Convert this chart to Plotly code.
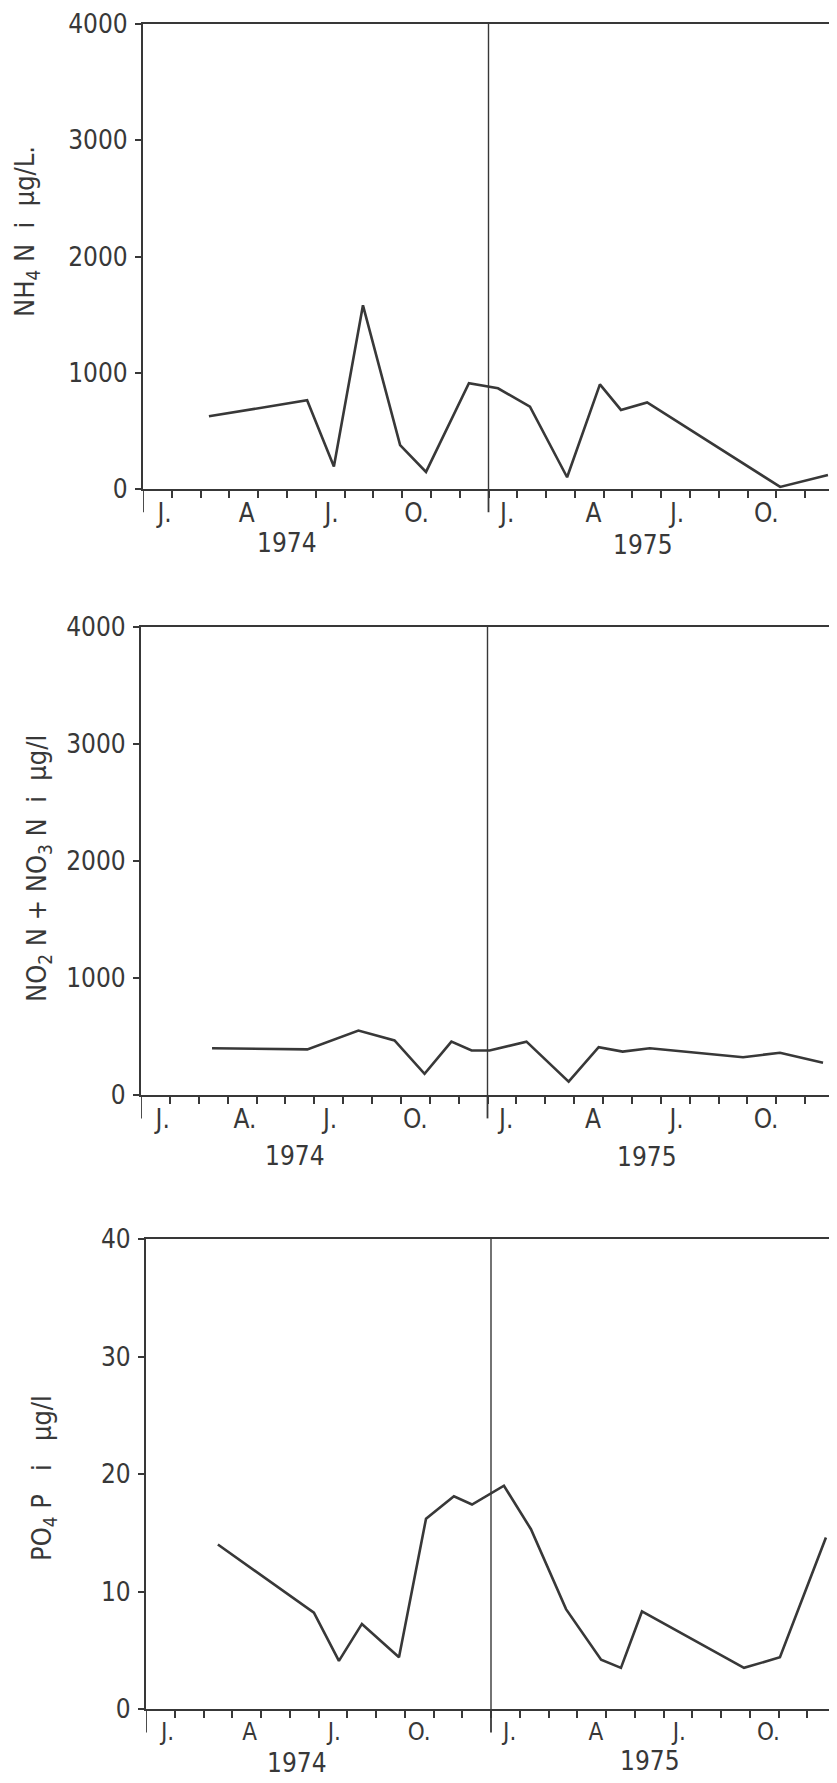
import plotly.graph_objects as go

# The page body adds an 8px margin; the figure is sized/placed to compensate.
OFF = 8
W, H = 837 - OFF, 1783 - OFF

# ---------------- data (x = months since 1 Jan 1974) ----------------
nh4_x = [2.29, 5.70, 6.63, 7.64, 8.93, 9.83, 11.32, 12.33, 13.44, 14.73, 15.87, 16.60, 17.51, 22.13, 23.79]
nh4_y = [625, 763, 193, 1580, 377, 147, 910, 866, 708, 101, 900, 680, 745, 18, 120]

no_x = [2.46, 5.76, 7.53, 8.78, 9.82, 10.75, 11.45, 12.07, 13.35, 14.81, 15.85, 16.68, 17.62, 20.85, 22.13, 23.62]
no_y = [399, 390, 551, 466, 181, 456, 380, 380, 456, 114, 408, 371, 399, 323, 361, 276]

po4_x = [2.50, 5.84, 6.71, 7.51, 8.80, 9.74, 10.71, 11.34, 12.45, 13.39, 14.61, 15.83, 16.52, 17.25, 20.80, 22.05, 23.65]
po4_y = [14.0, 8.2, 4.1, 7.24, 4.4, 16.2, 18.1, 17.4, 19.0, 15.3, 8.5, 4.2, 3.5, 8.3, 3.5, 4.4, 14.6]

month_pos = [0.75, 3.6, 6.55, 9.5, 12.65, 15.65, 18.55, 21.65]
months_a = ["J.", "A", "J.", "O.", "J.", "A", "J.", "O."]
months_b = ["J.", "A.", "J.", "O.", "J.", "A", "J.", "O."]
years = ["1974", "1975"]

nh4_ticks = [0, 1000, 2000, 3000, 4000]
no_ticks = [0, 1000, 2000, 3000, 4000]
po4_ticks = [0, 10, 20, 30, 40]

# ---------------- layout in (reference) pixels ----------------
panels = [
    dict(x0=143, x1=834, top=24, bot=489, xs=nh4_x, ys=nh4_y, yt=nh4_ticks, ymax=4000,
         months=months_a, title="NH<sub>4</sub> N  i  µg/L.", tx=27, ty=232,
         year_px=[(287, 543), (643, 545)], mfont=26),
    dict(x0=141, x1=834, top=627, bot=1095, xs=no_x, ys=no_y, yt=no_ticks, ymax=4000,
         months=months_b, title="NO<sub>2</sub> N + NO<sub>3</sub> N  i  µg/l", tx=38, ty=869,
         year_px=[(295, 1156), (647, 1157)], mfont=26),
    dict(x0=146, x1=836, top=1239, bot=1709, xs=po4_x, ys=po4_y, yt=po4_ticks, ymax=40,
         months=months_a, title="PO<sub>4</sub> P   i   µg/l", tx=43, ty=1478,
         year_px=[(297, 1763), (650, 1761)], mfont=24),
]

INK = "#383838"
FONT = "DejaVu Sans Condensed, DejaVu Sans, sans-serif"


def fx(px):
    return (px - OFF) / W


def fy(py):
    return 1 - (py - OFF) / H


fig = go.Figure()
layout = dict(width=W, height=H, margin=dict(l=0, r=0, t=0, b=0, autoexpand=False),
              paper_bgcolor="white", plot_bgcolor="white", showlegend=False,
              font=dict(family=FONT, color=INK, size=26))
shapes, annotations = [], []

for i, p in enumerate(panels, start=1):
    xa = "x" if i == 1 else f"x{i}"
    ya = "y" if i == 1 else f"y{i}"
    fig.add_trace(go.Scatter(x=p["xs"], y=p["ys"], mode="lines",
                             line=dict(color=INK, width=2.6), xaxis=xa, yaxis=ya,
                             hoverinfo="skip"))
    xd = [fx(p["x0"]), min(1.0, fx(p["x1"]))]
    yd = [fy(p["bot"]), fy(p["top"])]
    layout["xaxis" if i == 1 else f"xaxis{i}"] = dict(
        domain=xd, range=[0, 24], anchor=ya, showgrid=False, zeroline=False,
        automargin=False, ticklabeloverflow="allow",
        showline=True, linecolor=INK, linewidth=2.2, mirror=True,
        tickvals=month_pos, ticktext=p["months"], ticks="", ticklabelstandoff=0,
        tickfont=dict(size=p["mfont"], family=FONT, color=INK),
        minor=dict(tickvals=list(range(1, 24)), ticks="outside", ticklen=7,
                   tickwidth=1.8, tickcolor=INK, showgrid=False),
    )
    layout["yaxis" if i == 1 else f"yaxis{i}"] = dict(
        domain=yd, range=[0, p["ymax"]], anchor=xa, showgrid=False, zeroline=False,
        automargin=False, ticklabeloverflow="allow",
        showline=True, linecolor=INK, linewidth=2.2, mirror=True,
        tickvals=p["yt"], ticks="outside", ticklen=6, tickwidth=1.8, tickcolor=INK,
        tickfont=dict(size=26, family=FONT, color=INK), ticklabelstandoff=2,
    )
    # year divider
    shapes.append(dict(type="line", xref=xa, yref=f"{ya} domain", x0=12, x1=12, y0=0, y1=1,
                       line=dict(color=INK, width=1.4)))
    # long year ticks
    for xv in (0, 12, 24):
        shapes.append(dict(type="line", xref=xa, yref=f"{ya} domain", x0=xv, x1=xv,
                           y0=0, y1=-0.05, line=dict(color=INK, width=1.8)))
    # year labels
    for (px, py), yr in zip(p["year_px"], years):
        annotations.append(dict(text=yr, xref="paper", yref="paper", x=fx(px), y=fy(py),
                                showarrow=False, xanchor="center", yanchor="middle",
                                font=dict(size=26, family=FONT, color=INK)))
    # y-axis title
    annotations.append(dict(text=p["title"], xref="paper", yref="paper",
                            x=fx(p["tx"]), y=fy(p["ty"]), textangle=-90,
                            showarrow=False, xanchor="center", yanchor="middle",
                            font=dict(size=27, family=FONT, color=INK)))

layout["shapes"] = shapes
layout["annotations"] = annotations
fig.update_layout(**layout)
fig.write_html("out.html")
